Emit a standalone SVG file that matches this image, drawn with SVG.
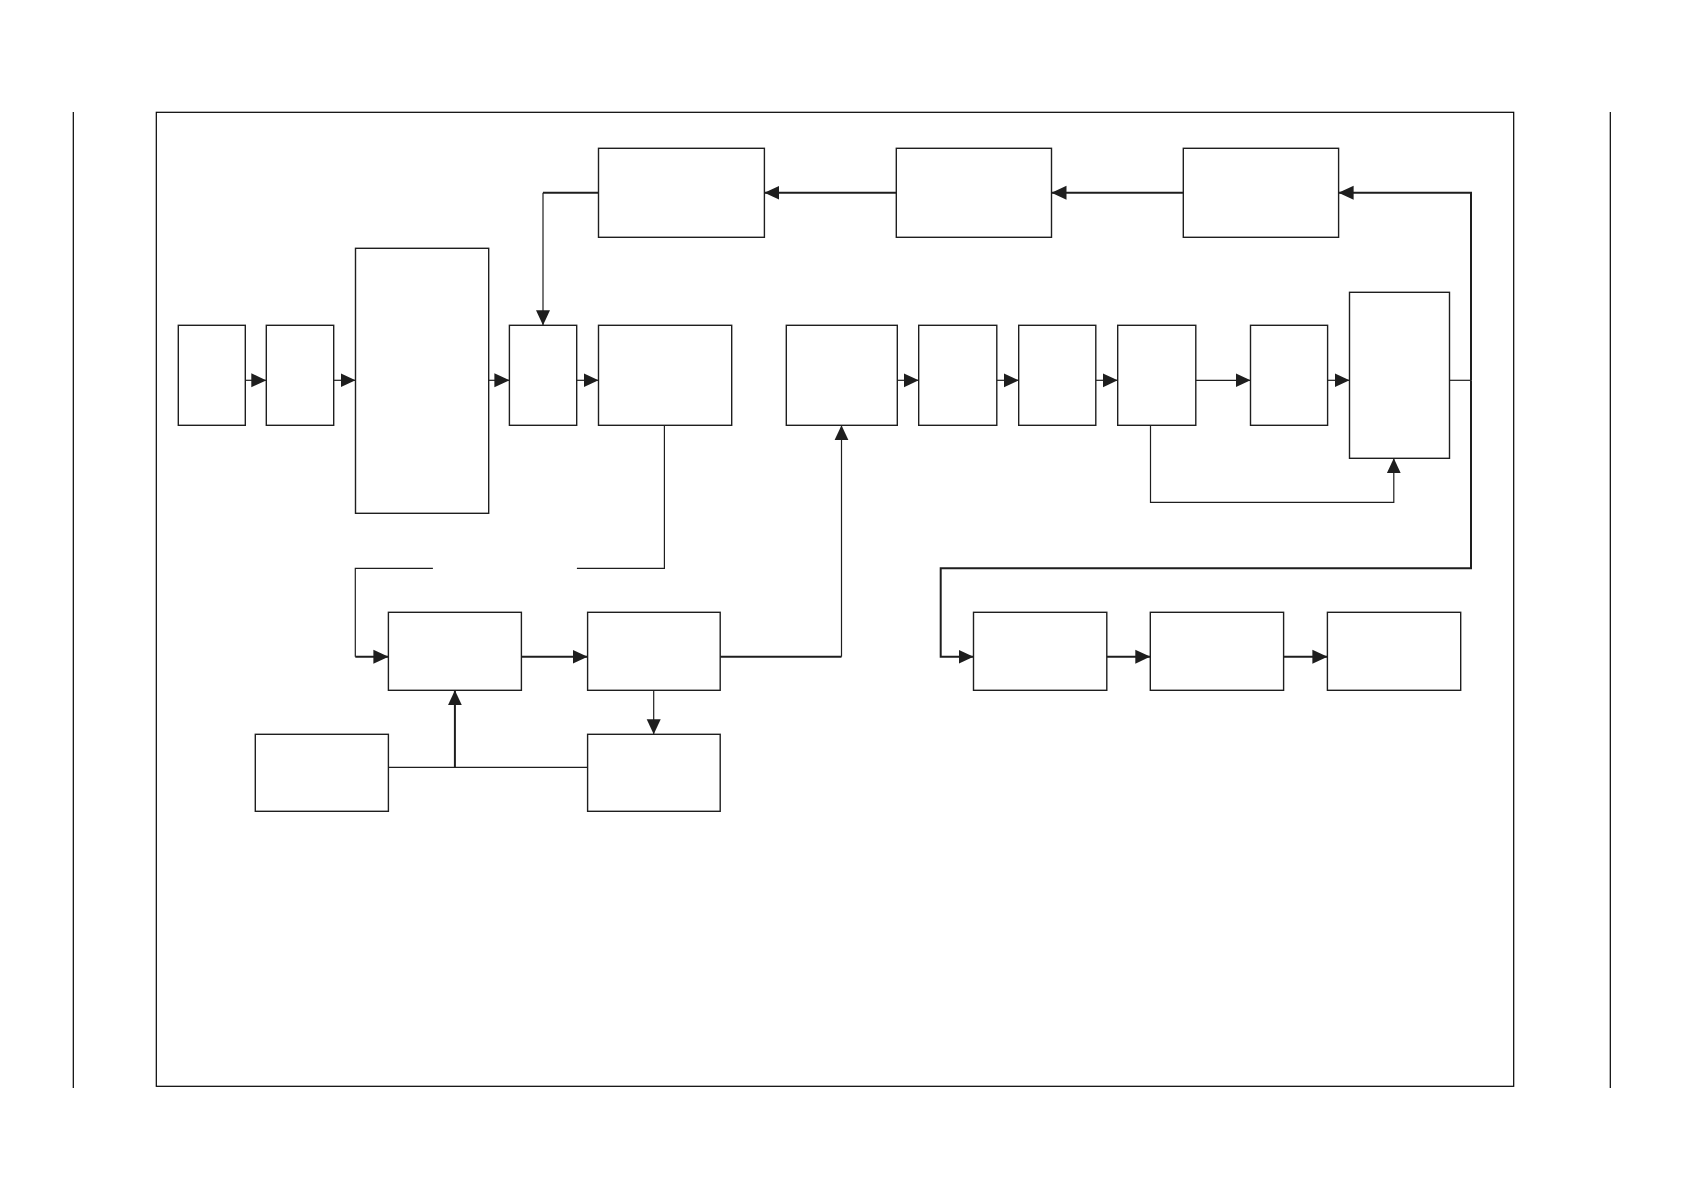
<svg xmlns="http://www.w3.org/2000/svg" width="1684" height="1190" viewBox="0 0 1684 1190">
<style>
.box{fill:#fff;stroke:#1e1e1e;stroke-width:1.4}
.ln{fill:none;stroke:#1e1e1e;stroke-width:1.2}
.tk{fill:none;stroke:#1e1e1e;stroke-width:2}
.pg{fill:none;stroke:#000;stroke-width:1.2}
</style>
<defs>
<marker id="ah" markerUnits="userSpaceOnUse" markerWidth="15" markerHeight="15" viewBox="0 0 15 15" refX="15" refY="7.5" orient="auto">
<path d="M0,0.5 L15,7.5 L0,14.5 Z" fill="#1e1e1e"/>
</marker>
</defs>
<rect width="1684" height="1190" fill="#fff"/>
<g id="page">
<line class="pg" x1="73.3" y1="112" x2="73.3" y2="1088"/>
<line class="pg" x1="1610.3" y1="112" x2="1610.3" y2="1088"/>
<rect class="pg" x="156.3" y="112.3" width="1357.4" height="974"/>
</g>
<g id="connectors">
<path class="ln" d="M245.3,380.3 H266.3" marker-end="url(#ah)"/>
<path class="ln" d="M333.7,380.3 H355.5" marker-end="url(#ah)"/>
<path class="ln" d="M488.7,380.3 H509.4" marker-end="url(#ah)"/>
<path class="ln" d="M576.7,380.3 H598.5" marker-end="url(#ah)"/>
<path class="tk" d="M598.5,192.7 H543"/>
<path class="ln" d="M543,192.7 V325.3" marker-end="url(#ah)"/>
<path class="tk" d="M896.3,192.7 H764.4" marker-end="url(#ah)"/>
<path class="tk" d="M1183.3,192.7 H1051.5" marker-end="url(#ah)"/>
<path class="ln" d="M1449.5,380.3 H1471"/>
<path class="tk" d="M1471,380.3 V192.7 H1338.6" marker-end="url(#ah)"/>
<path class="tk" d="M1471,380.3 V568.3 H940.7 V656.7 H973.5" marker-end="url(#ah)"/>
<path class="ln" d="M664.4,425.3 V568.3 H576.9"/>
<path class="ln" d="M432.9,568.3 H355.3 V656.7"/>
<path class="tk" d="M355.3,656.7 H388.4" marker-end="url(#ah)"/>
<path class="tk" d="M521.4,656.7 H587.6" marker-end="url(#ah)"/>
<path class="tk" d="M720.2,656.7 H841.5"/>
<path class="ln" d="M841.5,656.7 V425.3" marker-end="url(#ah)"/>
<path class="ln" d="M653.7,690.3 V734.3" marker-end="url(#ah)"/>
<path class="ln" d="M388.4,767.3 H587.6"/>
<path class="tk" d="M454.9,767.3 V690.3" marker-end="url(#ah)"/>
<path class="ln" d="M897.3,380.3 H918.7" marker-end="url(#ah)"/>
<path class="ln" d="M996.8,380.3 H1018.7" marker-end="url(#ah)"/>
<path class="ln" d="M1095.8,380.3 H1117.7" marker-end="url(#ah)"/>
<path class="ln" d="M1195.8,380.3 H1250.5" marker-end="url(#ah)"/>
<path class="ln" d="M1327.6,380.3 H1349.5" marker-end="url(#ah)"/>
<path class="ln" d="M1150.5,425.3 V502.3 H1393.8 V458.3" marker-end="url(#ah)"/>
<path class="tk" d="M1106.8,656.7 H1150.3" marker-end="url(#ah)"/>
<path class="tk" d="M1283.6,656.7 H1327.4" marker-end="url(#ah)"/>
</g>
<g id="nA"><rect class="box" x="178.3" y="325.3" width="67" height="100"/></g>
<g id="nB"><rect class="box" x="266.3" y="325.3" width="67.4" height="100"/></g>
<g id="nC"><rect class="box" x="355.5" y="248.3" width="133.2" height="265"/></g>
<g id="nD"><rect class="box" x="509.4" y="325.3" width="67.3" height="100"/></g>
<g id="nE"><rect class="box" x="598.5" y="325.3" width="133.2" height="100"/></g>
<g id="nF"><rect class="box" x="598.5" y="148.3" width="165.9" height="89"/></g>
<g id="nG"><rect class="box" x="896.3" y="148.3" width="155.2" height="89"/></g>
<g id="nH"><rect class="box" x="1183.3" y="148.3" width="155.3" height="89"/></g>
<g id="nI"><rect class="box" x="786.3" y="325.3" width="111" height="100"/></g>
<g id="nJ"><rect class="box" x="918.7" y="325.3" width="78.1" height="100"/></g>
<g id="nK"><rect class="box" x="1018.7" y="325.3" width="77.1" height="100"/></g>
<g id="nL"><rect class="box" x="1117.7" y="325.3" width="78.1" height="100"/></g>
<g id="nM"><rect class="box" x="1250.5" y="325.3" width="77.1" height="100"/></g>
<g id="nN"><rect class="box" x="1349.5" y="292.3" width="100" height="166"/></g>
<g id="nP"><rect class="box" x="388.4" y="612.3" width="133" height="78"/></g>
<g id="nQ"><rect class="box" x="587.6" y="612.3" width="132.6" height="78"/></g>
<g id="nR"><rect class="box" x="587.6" y="734.3" width="132.6" height="77"/></g>
<g id="nS"><rect class="box" x="255.3" y="734.3" width="133.1" height="77"/></g>
<g id="nT"><rect class="box" x="973.5" y="612.3" width="133.3" height="78"/></g>
<g id="nU"><rect class="box" x="1150.3" y="612.3" width="133.3" height="78"/></g>
<g id="nV"><rect class="box" x="1327.4" y="612.3" width="133.3" height="78"/></g>
</svg>
